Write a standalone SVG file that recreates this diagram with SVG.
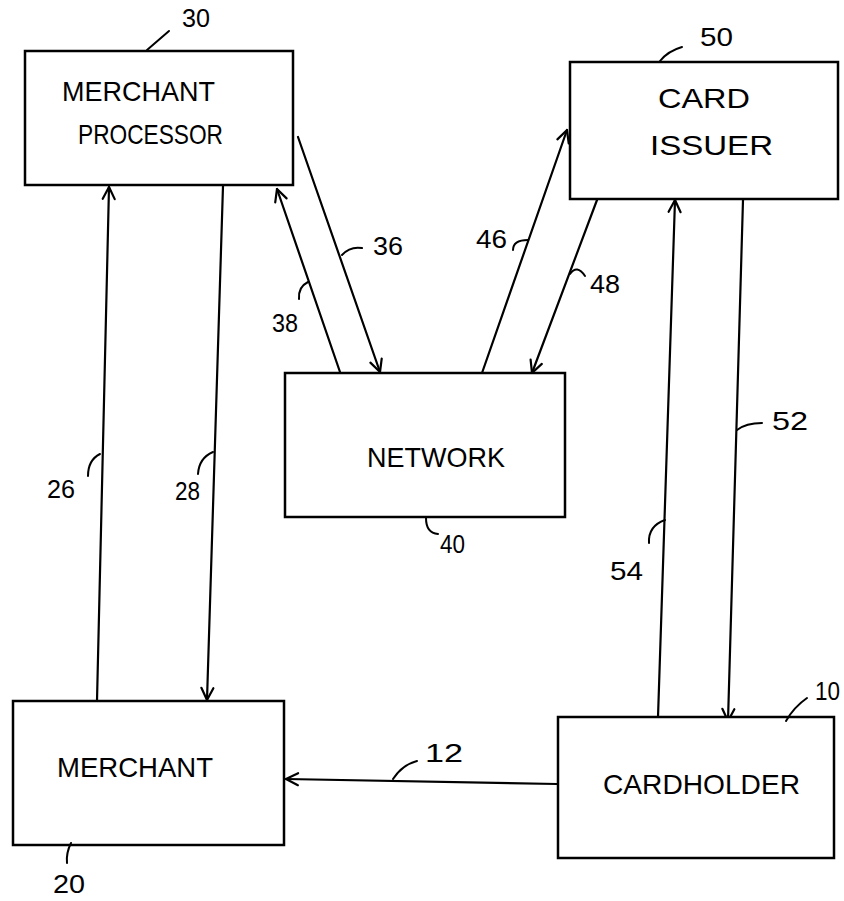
<svg xmlns="http://www.w3.org/2000/svg" width="844" height="901" viewBox="0 0 844 901">
<style>
  .box { fill: #ffffff; stroke: #000000; stroke-width: 2.5; }
  .conn { fill: none; stroke: #000000; stroke-width: 2.2; stroke-linecap: round; }
  .lead { fill: none; stroke: #000000; stroke-width: 2; stroke-linecap: round; }
  .lbl { font-family: "Liberation Sans", Arial, sans-serif; font-size: 28px; fill: #000000; }
  .num { font-family: "Liberation Sans", Arial, sans-serif; font-size: 26px; fill: #000000; }
</style>
<defs>
  <marker id="arr" viewBox="0 0 16 16" refX="14" refY="8" markerWidth="16" markerHeight="16" markerUnits="userSpaceOnUse" orient="auto">
    <path d="M2,2 L14,8 L2,14" fill="none" stroke="#000000" stroke-width="2.2" stroke-linecap="round" stroke-linejoin="round"/>
  </marker>
</defs>
<rect width="844" height="901" fill="#ffffff"/>

<g id="connectors">
  <!-- 26 merchant -> merchant processor -->
  <line class="conn" x1="97" y1="701" x2="109" y2="187" marker-end="url(#arr)"/>
  <!-- 28 merchant processor -> merchant -->
  <line class="conn" x1="223" y1="186" x2="207" y2="700" marker-end="url(#arr)"/>
  <!-- 36 merchant processor -> network -->
  <line class="conn" x1="298" y1="137" x2="380" y2="372" marker-end="url(#arr)"/>
  <!-- 38 network -> merchant processor -->
  <line class="conn" x1="340" y1="372" x2="277" y2="189" marker-end="url(#arr)"/>
  <!-- 46 network -> card issuer -->
  <line class="conn" x1="482" y1="373" x2="567" y2="130" marker-end="url(#arr)"/>
  <!-- 48 card issuer -> network -->
  <line class="conn" x1="597" y1="200" x2="532" y2="373" marker-end="url(#arr)"/>
  <!-- 52 card issuer -> cardholder -->
  <line class="conn" x1="743" y1="200" x2="728" y2="721" marker-end="url(#arr)"/>
  <!-- 54 cardholder -> card issuer -->
  <line class="conn" x1="658" y1="717" x2="675" y2="200" marker-end="url(#arr)"/>
  <!-- 12 cardholder -> merchant -->
  <line class="conn" x1="557" y1="784" x2="286" y2="779" marker-end="url(#arr)"/>

  <!-- reference leaders -->
  <path class="lead" d="M88,476 Q88,460 100,454"/>
  <path class="lead" d="M198,474 Q199,458 213,452"/>
  <path class="lead" d="M342,255 Q350,246 362,248"/>
  <path class="lead" d="M299,299 Q298,287 308,282"/>
  <path class="lead" d="M513,250 Q513,240 528,240"/>
  <path class="lead" d="M570,274 Q577,264 585,276"/>
  <path class="lead" d="M737,430 Q746,423 762,423"/>
  <path class="lead" d="M649,543 Q648,526 665,520"/>
  <path class="lead" d="M393,779 Q402,765 417,761"/>
</g>

<g id="merchant-processor">
  <rect class="box" x="25" y="51" width="268" height="134"/>
  <text class="lbl" x="62" y="101" textLength="153" lengthAdjust="spacingAndGlyphs">MERCHANT</text>
  <text class="lbl" x="78" y="144" textLength="145" lengthAdjust="spacingAndGlyphs">PROCESSOR</text>
  <path class="lead" d="M147,50 L169,31"/>
  <text class="num" x="182" y="27" textLength="28" lengthAdjust="spacingAndGlyphs">30</text>
</g>

<g id="card-issuer">
  <rect class="box" x="570" y="62" width="268" height="137"/>
  <text class="lbl" x="658" y="108" textLength="92" lengthAdjust="spacingAndGlyphs">CARD</text>
  <text class="lbl" x="650" y="155" textLength="123" lengthAdjust="spacingAndGlyphs">ISSUER</text>
  <path class="lead" d="M660,61 Q668,51 682,47"/>
  <text class="num" x="700" y="46" textLength="33" lengthAdjust="spacingAndGlyphs">50</text>
</g>

<g id="network">
  <rect class="box" x="285" y="373" width="280" height="144"/>
  <text class="lbl" x="367" y="467" textLength="138" lengthAdjust="spacingAndGlyphs">NETWORK</text>
  <path class="lead" d="M426,518 Q426,533 438,534"/>
  <text class="num" x="440" y="553" textLength="25" lengthAdjust="spacingAndGlyphs">40</text>
</g>

<g id="merchant">
  <rect class="box" x="13" y="701" width="271" height="144"/>
  <text class="lbl" x="57" y="777" textLength="156" lengthAdjust="spacingAndGlyphs">MERCHANT</text>
  <path class="lead" d="M71,843 Q66,853 67,863"/>
  <text class="num" x="53" y="893" font-size="24" textLength="32" lengthAdjust="spacingAndGlyphs">20</text>
</g>

<g id="cardholder">
  <rect class="box" x="558" y="717" width="276" height="141"/>
  <text class="lbl" x="603" y="794" textLength="197" lengthAdjust="spacingAndGlyphs">CARDHOLDER</text>
  <path class="lead" d="M786,721 Q794,707 807,698"/>
  <text class="num" x="815" y="700" textLength="25" lengthAdjust="spacingAndGlyphs">10</text>
</g>

<g id="labels">
  <text class="num" x="47" y="498" textLength="28" lengthAdjust="spacingAndGlyphs">26</text>
  <text class="num" x="175" y="500" textLength="25" lengthAdjust="spacingAndGlyphs">28</text>
  <text class="num" x="373" y="255" textLength="30" lengthAdjust="spacingAndGlyphs">36</text>
  <text class="num" x="272" y="332" textLength="26" lengthAdjust="spacingAndGlyphs">38</text>
  <text class="num" x="476" y="248" textLength="31" lengthAdjust="spacingAndGlyphs">46</text>
  <text class="num" x="590" y="293" textLength="30" lengthAdjust="spacingAndGlyphs">48</text>
  <text class="num" x="772" y="430" textLength="36" lengthAdjust="spacingAndGlyphs">52</text>
  <text class="num" x="610" y="580" textLength="33" lengthAdjust="spacingAndGlyphs">54</text>
  <text class="num" x="425" y="762" textLength="38" lengthAdjust="spacingAndGlyphs">12</text>
</g>
</svg>
